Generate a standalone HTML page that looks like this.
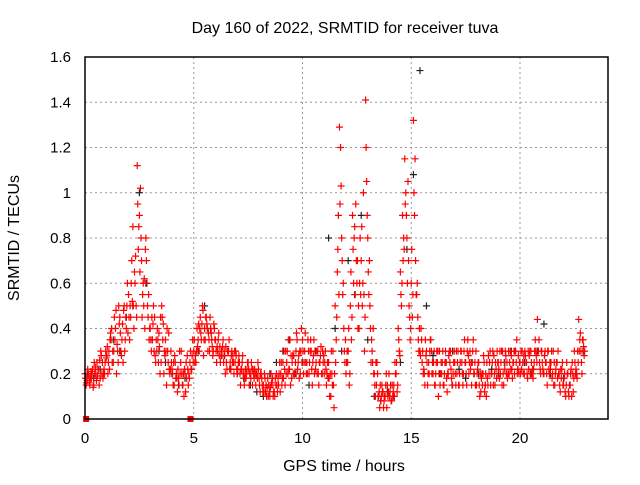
<!DOCTYPE html>
<html><head><meta charset="utf-8"><style>
body{margin:0;background:#fff}
svg text{font-family:"Liberation Sans",sans-serif;font-size:15px;fill:#000}
svg text.t{font-size:16px}
</style></head><body>
<svg id="chart" width="640" height="480" viewBox="0 0 640 480">
<text class="t" x="345" y="33" text-anchor="middle">Day 160 of 2022, SRMTID for receiver tuva</text>
<text class="t" transform="translate(19,238) rotate(-90)" text-anchor="middle">SRMTID / TECUs</text>
<text class="t" x="344" y="471" text-anchor="middle">GPS time / hours</text>
<g id="grid"></g><g id="ticks"></g><g id="marks"></g>
<rect x="85" y="57" width="523" height="362" fill="none" stroke="#000" stroke-width="1.5"/>
</svg>
<script>
const xTicks=[0,5,10,15,20];
const yTicks=[0,0.2,0.4,0.6,0.8,1,1.2,1.4,1.6];
const yTickLabels=["0","0.2","0.4","0.6","0.8","1","1.2","1.4","1.6"];
const redStep=0.1;
const redA=[0.2,0.17,0.16,0.18,0.15,0.2,0.22,0.18,0.25,0.2,
0.28,0.3,0.35,0.25,0.4,0.3,0.45,0.35,0.5,0.4,
0.55,0.45,0.85,0.6,1.12,0.9,0.7,0.5,0.8,0.45,
0.4,0.35,0.45,0.3,0.38,0.25,0.42,0.35,0.3,0.2,
0.22,0.15,0.2,0.18,0.25,0.15,0.2,0.28,0.18,0.22,
0.3,0.25,0.35,0.45,0.5,0.4,0.42,0.35,0.38,0.3,
0.35,0.3,0.32,0.28,0.3,0.25,0.3,0.22,0.28,0.25,
0.2,0.25,0.22,0.2,0.18,0.25,0.2,0.15,0.22,0.2,
0.18,0.2,0.15,0.12,0.18,0.1,0.15,0.12,0.2,0.15,
0.2,0.25,0.15,0.3,0.22,0.18,0.28,0.3,0.25,0.2,
0.35,0.3,0.25,0.2,0.3,0.28,0.22,0.3,0.25,0.2,
0.2,0.15,0.25,0.1,0.3,0.5,0.65,1.29,0.8,0.4,
0.2,0.3,0.5,0.9,0.85,0.6,0.4,0.7,1.0,1.41,
0.8,0.5,0.3,0.2,0.15,0.1,0.08,0.12,0.1,0.15,
0.1,0.08,0.15,0.2,0.4,0.65,0.9,1.15,0.8,0.5,
0.6,1.32,0.7,0.45,0.3,0.25,0.2,0.3,0.25,0.35,
0.2,0.15,0.25,0.3,0.2,0.15,0.25,0.2,0.3,0.15,
0.25,0.2,0.15,0.3,0.2,0.25,0.35,0.3,0.25,0.2,
0.15,0.25,0.12,0.2,0.15,0.18,0.25,0.2,0.28,0.22,
0.25,0.2,0.3,0.22,0.25,0.2,0.28,0.25,0.3,0.22,
0.25,0.3,0.2,0.25,0.22,0.3,0.18,0.35,0.44,0.25,
0.3,0.2,0.25,0.3,0.22,0.2,0.15,0.25,0.2,0.18,
0.15,0.1,0.2,0.15,0.25,0.3,0.2,0.44,0.3,0.35];
const redB=[0.15,0.2,0.18,0.22,0.2,0.25,0.15,0.28,0.2,0.3,
0.2,0.35,0.25,0.45,0.2,0.5,0.3,0.25,0.35,0.6,
0.35,0.7,0.4,0.5,0.75,1.02,0.55,0.4,0.6,0.35,
0.3,0.5,0.25,0.35,0.2,0.45,0.3,0.15,0.38,0.3,
0.15,0.25,0.12,0.3,0.2,0.1,0.25,0.15,0.3,0.35,
0.25,0.4,0.3,0.35,0.28,0.45,0.3,0.45,0.32,0.4,
0.25,0.38,0.28,0.35,0.2,0.3,0.22,0.3,0.2,0.28,
0.25,0.15,0.28,0.18,0.22,0.15,0.25,0.2,0.15,0.25,
0.12,0.15,0.2,0.1,0.15,0.2,0.1,0.18,0.12,0.25,
0.15,0.3,0.2,0.35,0.15,0.28,0.2,0.35,0.18,0.4,
0.2,0.25,0.35,0.3,0.15,0.2,0.3,0.15,0.32,0.25,
0.3,0.25,0.1,0.2,0.05,0.35,0.9,1.2,0.55,0.25,
0.3,0.15,0.35,0.6,0.95,0.4,0.8,0.5,0.3,1.05,
0.55,0.25,0.4,0.1,0.2,0.05,0.15,0.08,0.2,0.12,
0.15,0.1,0.25,0.12,0.3,0.5,0.8,1.0,1.05,0.35,
0.45,0.9,0.55,0.3,0.4,0.2,0.35,0.15,0.3,0.2,
0.3,0.25,0.1,0.2,0.3,0.25,0.12,0.3,0.18,0.25,
0.15,0.3,0.25,0.2,0.35,0.15,0.2,0.25,0.35,0.15,
0.22,0.1,0.2,0.25,0.1,0.28,0.15,0.3,0.15,0.3,
0.18,0.3,0.15,0.28,0.2,0.3,0.18,0.2,0.35,0.2,
0.3,0.2,0.28,0.18,0.3,0.2,0.25,0.28,0.3,0.2,
0.22,0.3,0.15,0.2,0.3,0.15,0.22,0.3,0.12,0.25,
0.2,0.25,0.1,0.22,0.12,0.2,0.3,0.35,0.2,0.28];
const redC=[0.18,0.22,0.15,0.2,0.25,0.17,0.22,0.3,0.18,0.25,
0.32,0.22,0.4,0.3,0.48,0.25,0.38,0.42,0.3,0.5,
0.45,0.6,0.5,0.72,0.95,0.65,0.45,0.62,0.7,0.55,
0.35,0.42,0.28,0.4,0.32,0.5,0.2,0.3,0.25,0.22,
0.2,0.28,0.18,0.15,0.3,0.2,0.12,0.22,0.25,0.28,
0.35,0.3,0.42,0.38,0.48,0.35,0.4,0.3,0.35,0.42,
0.3,0.35,0.25,0.32,0.28,0.22,0.35,0.28,0.25,0.3,
0.22,0.2,0.25,0.15,0.2,0.22,0.18,0.22,0.2,0.18,
0.15,0.18,0.12,0.15,0.1,0.14,0.18,0.1,0.15,0.2,
0.25,0.18,0.3,0.2,0.35,0.25,0.2,0.38,0.28,0.3,
0.3,0.38,0.2,0.25,0.22,0.35,0.25,0.2,0.28,0.3,
0.25,0.2,0.18,0.3,0.15,0.25,0.75,0.95,0.7,0.3,
0.25,0.4,0.65,0.75,0.55,0.7,0.6,0.85,0.55,1.2,
0.65,0.4,0.25,0.15,0.25,0.12,0.1,0.05,0.15,0.1,
0.12,0.15,0.1,0.25,0.35,0.55,0.7,0.95,0.6,0.45,
0.75,1.0,0.55,0.35,0.28,0.3,0.15,0.25,0.2,0.3,
0.25,0.2,0.3,0.15,0.25,0.2,0.18,0.28,0.22,0.2,
0.2,0.25,0.2,0.25,0.3,0.2,0.28,0.22,0.3,0.25,
0.2,0.15,0.18,0.28,0.2,0.15,0.3,0.25,0.2,0.18,
0.22,0.25,0.2,0.3,0.18,0.25,0.22,0.3,0.25,0.28,
0.2,0.25,0.3,0.2,0.28,0.25,0.22,0.3,0.3,0.22,
0.25,0.28,0.2,0.22,0.25,0.3,0.2,0.18,0.15,0.22,
0.18,0.15,0.12,0.2,0.2,0.25,0.18,0.3,0.25,0.32];
const redD=[0.16,0.19,0.21,0.14,0.23,0.19,0.26,0.2,0.22,0.27,
0.25,0.38,0.3,0.35,0.33,0.42,0.28,0.48,0.45,0.38,
0.5,0.52,0.65,0.45,0.85,0.8,0.6,0.75,0.5,0.4,
0.45,0.3,0.35,0.25,0.45,0.35,0.28,0.4,0.22,0.25,
0.25,0.18,0.22,0.2,0.15,0.22,0.18,0.2,0.22,0.25,
0.28,0.32,0.4,0.42,0.35,0.45,0.38,0.4,0.28,0.35,
0.32,0.28,0.3,0.25,0.32,0.3,0.25,0.25,0.3,0.22,
0.28,0.22,0.2,0.22,0.25,0.2,0.22,0.18,0.2,0.22,
0.2,0.12,0.18,0.14,0.12,0.16,0.12,0.15,0.18,0.12,
0.18,0.22,0.25,0.22,0.28,0.2,0.25,0.22,0.3,0.25,
0.25,0.2,0.3,0.35,0.25,0.3,0.2,0.25,0.2,0.28,
0.22,0.18,0.2,0.15,0.2,0.45,0.55,1.03,0.6,0.35,
0.25,0.2,0.45,0.8,0.7,0.5,0.55,0.6,0.45,0.9,
0.7,0.35,0.2,0.25,0.1,0.15,0.12,0.1,0.05,0.2,
0.08,0.12,0.2,0.15,0.28,0.6,0.75,0.9,0.7,0.4,
0.55,1.15,0.6,0.4,0.35,0.22,0.28,0.2,0.35,0.25,
0.15,0.3,0.2,0.25,0.15,0.3,0.2,0.25,0.15,0.3,
0.3,0.15,0.3,0.15,0.25,0.3,0.25,0.15,0.2,0.3,
0.25,0.2,0.15,0.12,0.25,0.2,0.2,0.15,0.25,0.25,
0.3,0.15,0.25,0.2,0.3,0.22,0.25,0.3,0.2,0.25,
0.22,0.28,0.25,0.3,0.2,0.22,0.3,0.25,0.35,0.3,
0.2,0.25,0.3,0.25,0.18,0.25,0.25,0.2,0.22,0.15,
0.12,0.2,0.15,0.1,0.18,0.22,0.25,0.38,0.35,0.3];
const blackStep=0.3;
const blackVals=[0.2,0.18,0.22,0.28,0.35,0.3,0.45,0.5,1.0,0.6,0.35,0.3,0.25,0.2,0.15,0.18,0.22,0.3,0.5,0.38,0.3,0.28,0.22,0.2,0.18,0.15,0.12,0.1,0.2,0.25,0.3,0.35,0.2,0.25,0.15,0.3,0.2,0.8,0.4,0.3,0.7,0.55,0.9,0.35,0.1,0.08,0.12,0.1,0.25,0.75,1.08,1.54,0.5,0.28,0.2,0.25,0.3,0.22,0.18,0.25,0.2,0.15,0.22,0.2,0.25,0.3,0.22,0.25,0.2,0.3,0.42,0.2,0.25,0.18,0.15,0.2,0.3];
const zeroTimes=[0.05,4.85];
const zeroVals=[0,0];

const X0=85,X1=607,Y0=419,Y1=57;
const xs=v=>X0+(X1-X0)*v/24;
const ys=v=>Y0-(Y0-Y1)*v/1.6;
const NS="http://www.w3.org/2000/svg";
const grid=document.getElementById('grid'),ticks=document.getElementById('ticks'),marks=document.getElementById('marks');
function mk(tag,attrs,parent){const e=document.createElementNS(NS,tag);for(const k in attrs)e.setAttribute(k,attrs[k]);parent.appendChild(e);return e;}
xTicks.forEach(t=>{
  const x=xs(t);
  if(t>0){const g=mk('line',{x1:x,x2:x,y1:Y0,y2:Y1,stroke:'#999','stroke-dasharray':'2,3'},grid);
  
  }
  const l=mk('text',{x:x,y:Y0+24,'text-anchor':'middle'},ticks);l.textContent=t;
  
  
});
yTicks.forEach((t,i)=>{
  const y=ys(t);
  if(t>0){const g=mk('line',{x1:X0,x2:608,y1:y,y2:y,stroke:'#999','stroke-dasharray':'2,3'},grid);
  
  }
  const l=mk('text',{x:X0-14,y:y+5,'text-anchor':'end'},ticks);l.textContent=yTickLabels[i];
  
  
});
function cross(x,y,c,name){
  const p=mk('path',{d:`M${x-3.5},${y}h7M${x},${y-3.5}v7`,stroke:c,'stroke-width':1.2,fill:'none'},marks);
  
  
}
blackVals.forEach((v,i)=>cross(xs(i*blackStep+0.1),ys(v),'#222','black-point'));
redA.forEach((v,i)=>cross(xs(i*redStep),ys(v),'#f00','red-point'));
redB.forEach((v,i)=>cross(xs(i*redStep+0.05),ys(v),'#f00','red-point'));
redC.forEach((v,i)=>cross(xs(i*redStep+0.025),ys(v),'#f00','red-point'));
redD.forEach((v,i)=>cross(xs(i*redStep+0.075),ys(v),'#f00','red-point'));
zeroTimes.forEach((t,i)=>{
  const r=mk('rect',{x:xs(t)-3,y:ys(zeroVals[i])-3,width:6,height:6,fill:'#f00'},marks);
  
  
});
</script>
</body></html>
